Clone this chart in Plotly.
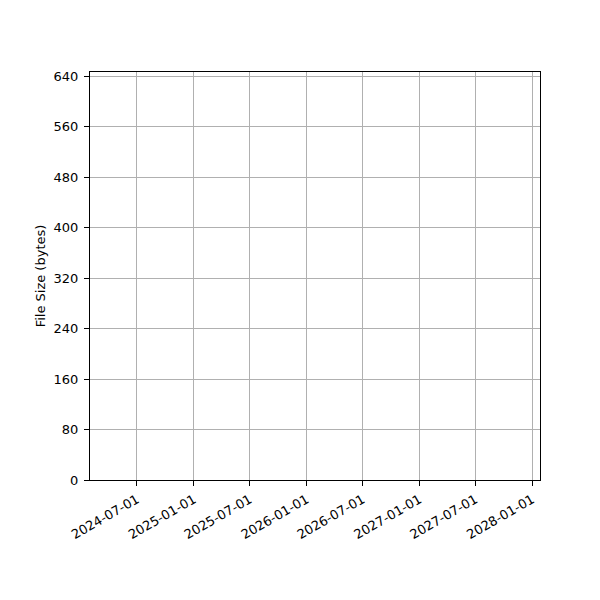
import plotly.graph_objects as go

# Data (the reference chart shows no marks: series is empty)
dates = []
file_sizes = []

x_tick_labels = ["2024-07-01", "2025-01-01", "2025-07-01", "2026-01-01",
                 "2026-07-01", "2027-01-01", "2027-07-01", "2028-01-01"]
y_tick_values = [0, 80, 160, 240, 320, 400, 480, 560, 640]

x_range = ["2024-01-31", "2028-01-26"]
y_range = [0, 647]

fig = go.Figure()
fig.add_trace(go.Scatter(x=dates, y=file_sizes, mode="lines+markers",
                         line=dict(color="#1f77b4"), showlegend=False))

axis_common = dict(
    showline=True, linecolor="black", linewidth=1.1, mirror=True,
    ticks="outside", ticklen=5, tickwidth=1.1, tickcolor="black",
    showgrid=True, gridcolor="#b0b0b0", gridwidth=0.8,
    zeroline=False, tickfont=dict(family="DejaVu Sans", size=13, color="black"),
)

fig.update_layout(
    width=600, height=600,
    margin=dict(l=82, r=68, t=64, b=128, pad=0, autoexpand=False),
    paper_bgcolor="white", plot_bgcolor="white",
    font=dict(family="DejaVu Sans", size=13, color="black"),
    xaxis=dict(type="date", range=x_range, tickmode="array",
               tickvals=x_tick_labels, ticktext=x_tick_labels,
               tickangle=-30, ticklabelstandoff=1, **axis_common),
    yaxis=dict(range=y_range, tickmode="array", tickvals=y_tick_values,
               ticktext=[str(v) for v in y_tick_values],
               ticklabelstandoff=3,
               title=dict(text="File Size (bytes)", standoff=4,
                          font=dict(family="DejaVu Sans", size=13)),
               **axis_common),
)

fig.write_html("out.html")
